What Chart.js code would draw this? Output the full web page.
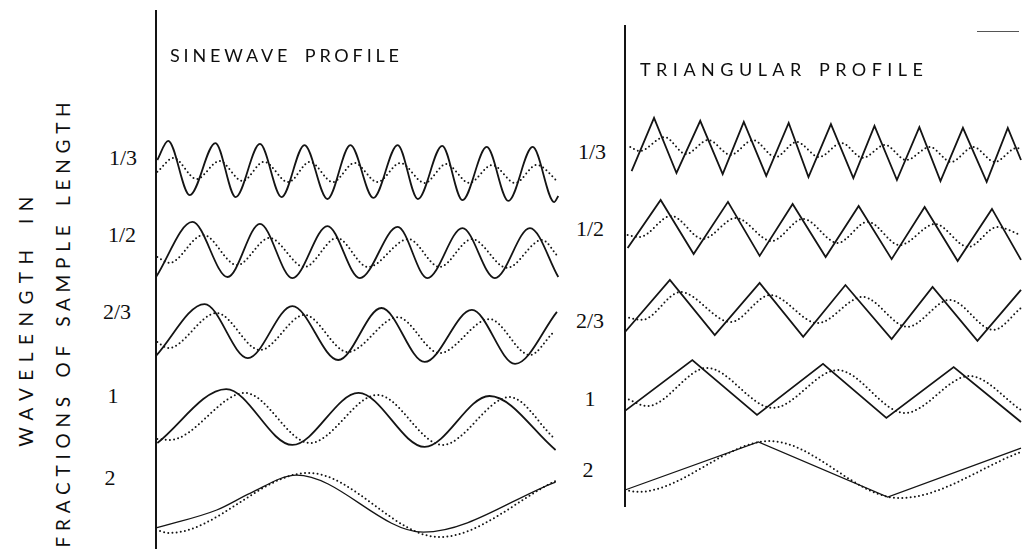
<!DOCTYPE html>
<html>
<head>
<meta charset="utf-8">
<script src="https://cdn.jsdelivr.net/npm/chart.js@4.4.1/dist/chart.umd.min.js"></script>
<style>
  html, body { margin: 0; padding: 0; background: #fff; }
  #page { position: relative; width: 1022px; height: 549px; overflow: hidden; font-family: "Lato", sans-serif; color: #0e0e0e; }
  canvas { position: absolute; }
  .title { position: absolute; font-size: 18px; line-height: 18px; white-space: nowrap; transform: translateY(-50%); }
  .ytitle { position: absolute; font-size: 19px; line-height: 19px; white-space: nowrap; transform: translate(-50%, -50%) rotate(-90deg); }
  .row-label { position: absolute; font-family: "Liberation Serif", serif; font-size: 22px; line-height: 22px; transform: translate(-50%, -50%); }
  .rule { position: absolute; height: 1px; background: #555; }
</style>
</head>
<body>
<div id="page">
  <canvas id="sine"></canvas>
  <canvas id="tri"></canvas>
</div>
<script>
// wavelength of each row, as a fraction of the sample length
const wavelengths = ['1/3', '1/2', '2/3', '1', '2'];

// points are [distance along sample (sample lengths), height]; solid = profile, dotted = recorded trace

// sinewave profile
const sineSolid13 = [[0.01,0.38],[0.09,1.07],[0.25,-0.89],[0.44,0.99],[0.59,-0.96],[0.77,0.96],[0.93,-0.96],[1.10,0.92],[1.27,-1.03],[1.44,0.92],[1.61,-0.99],[1.79,0.92],[1.94,-1.03],[2.12,0.89],[2.27,-1.07],[2.45,0.85],[2.61,-1.10],[2.79,0.85],[2.95,-1.14],[2.98,-0.92]];
const sineDotted13 = [[0.01,-0.05],[0.13,0.45],[0.30,-0.31],[0.47,0.34],[0.64,-0.38],[0.80,0.31],[0.98,-0.42],[1.14,0.31],[1.31,-0.42],[1.47,0.27],[1.64,-0.42],[1.81,0.27],[1.99,-0.45],[2.15,0.23],[2.32,-0.45],[2.49,0.20],[2.66,-0.45],[2.82,0.20],[2.98,-0.42]];
const sineSolid12 = [[0.00,-0.85],[0.27,1.14],[0.53,-0.85],[0.77,1.07],[1.01,-0.89],[1.27,0.99],[1.51,-0.89],[1.79,0.96],[2.01,-0.89],[2.27,0.92],[2.51,-0.89],[2.77,0.92],[2.98,-0.85]];
const sineDotted12 = [[0.01,-0.13],[0.10,-0.34],[0.35,0.67],[0.60,-0.42],[0.84,0.56],[1.10,-0.49],[1.34,0.56],[1.57,-0.49],[1.87,0.52],[2.10,-0.49],[2.34,0.52],[2.60,-0.52],[2.86,0.49],[2.98,-0.13]];
const sineSolid23 = [[0.00,-0.70],[0.36,1.17],[0.68,-0.78],[1.01,1.10],[1.35,-0.85],[1.67,1.03],[1.99,-0.92],[2.34,0.96],[2.66,-0.99],[2.97,0.89]];
const sineDotted23 = [[0.01,-0.20],[0.09,-0.42],[0.45,0.85],[0.77,-0.49],[1.10,0.78],[1.42,-0.56],[1.79,0.70],[2.10,-0.60],[2.47,0.63],[2.77,-0.67],[2.94,0.13]];
const sineSolid1 = [[0.01,-0.85],[0.52,1.10],[1.01,-0.92],[1.50,0.96],[1.99,-0.99],[2.47,0.85],[2.96,-1.10]];
const sineDotted1 = [[0.01,-0.70],[0.10,-0.74],[0.66,0.96],[1.14,-0.85],[1.64,0.89],[2.12,-0.92],[2.62,0.81],[2.94,-0.63]];
const sineSolid2 = [[0.00,-0.92],[0.45,-0.27],[0.70,0.34],[1.04,0.99],[1.98,-1.07],[2.96,0.74]];
const sineDotted2 = [[0.00,-0.99],[0.10,-1.10],[1.13,1.07],[2.10,-1.25],[2.96,0.78]];

// triangular profile
const triSolid13 = [[0.05,-0.93],[0.22,1.04],[0.39,-1.00],[0.57,0.93],[0.74,-1.04],[0.90,0.89],[1.07,-1.11],[1.24,0.85],[1.39,-1.15],[1.56,0.81],[1.73,-1.19],[1.89,0.74],[2.06,-1.26],[2.23,0.70],[2.39,-1.30],[2.56,0.67],[2.74,-1.33],[2.90,0.67],[3.00,-0.52]];
const triDotted13 = [[0.04,-0.04],[0.11,-0.19],[0.30,0.33],[0.46,-0.30],[0.63,0.22],[0.80,-0.33],[0.97,0.22],[1.14,-0.41],[1.30,0.15],[1.47,-0.41],[1.64,0.11],[1.80,-0.44],[1.97,0.04],[2.13,-0.52],[2.31,-0.04],[2.47,-0.59],[2.64,-0.04],[2.80,-0.59],[2.97,-0.07],[3.00,-0.15]];
const triSolid12 = [[0.02,-0.78],[0.27,1.00],[0.52,-1.00],[0.78,0.93],[1.02,-1.07],[1.27,0.85],[1.52,-1.11],[1.77,0.78],[2.02,-1.19],[2.27,0.74],[2.52,-1.26],[2.78,0.67],[3.00,-1.22]];
const triDotted12 = [[0.02,-0.30],[0.11,-0.37],[0.35,0.41],[0.59,-0.44],[0.84,0.33],[1.11,-0.52],[1.35,0.30],[1.61,-0.59],[1.84,0.19],[2.08,-0.67],[2.35,0.11],[2.60,-0.74],[2.82,0.00],[3.00,-0.30]];
const triSolid23 = [[0.00,-0.89],[0.34,1.04],[0.68,-1.00],[1.02,0.93],[1.35,-1.07],[1.67,0.85],[2.02,-1.15],[2.33,0.78],[2.67,-1.22],[3.00,0.67]];
const triDotted23 = [[0.00,-0.33],[0.13,-0.44],[0.42,0.59],[0.80,-0.52],[1.10,0.48],[1.46,-0.56],[1.80,0.41],[2.14,-0.70],[2.46,0.30],[2.79,-0.81],[3.00,0.00]];
const triSolid1 = [[0.00,-0.81],[0.51,1.07],[1.00,-0.96],[1.50,0.93],[1.98,-1.07],[2.49,0.81],[3.00,-1.22]];
const triDotted1 = [[0.00,-0.33],[0.17,-0.63],[0.62,0.78],[1.12,-0.70],[1.61,0.70],[2.12,-0.89],[2.61,0.48],[3.00,-0.78]];
const triSolid2 = [[0.00,-0.74],[1.01,1.04],[1.99,-1.00],[3.00,0.81]];
const triDotted2 = [[0.00,-0.74],[0.10,-0.81],[1.10,1.07],[2.08,-1.04],[3.00,0.67]];

const sineRows = [
  [sineSolid13, sineDotted13], [sineSolid12, sineDotted12], [sineSolid23, sineDotted23],
  [sineSolid1, sineDotted1], [sineSolid2, sineDotted2]
];
const triRows = [
  [triSolid13, triDotted13], [triSolid12, triDotted12], [triSolid23, triDotted23],
  [triSolid1, triDotted1], [triSolid2, triDotted2]
];

const INK = '#141414';
const ROW_GAP = 3; // rows stacked 3 height units apart

function toPoints(pairs, row) {
  return pairs.map(p => ({ x: p[0], y: p[1] - row * ROW_GAP }));
}

function buildDatasets(rows, smoothProfile) {
  let sets = [];
  rows.forEach((row, i) => {
    let last = i === rows.length - 1;
    sets.push({
      data: toPoints(row[0], i),
      borderColor: INK,
      borderWidth: last ? 1.3 : 1.8,
      borderJoinStyle: 'miter',
      cubicInterpolationMode: smoothProfile ? 'monotone' : 'default',
      tension: 0,
      clip: false
    });
    sets.push({
      data: toPoints(row[1], i),
      borderColor: INK,
      borderWidth: 2,
      borderDash: [0, 4.2],
      borderCapStyle: 'round',
      cubicInterpolationMode: 'monotone',
      clip: false
    });
  });
  return sets;
}

function makePanel(id, box, padding, yMin, yMax, rows, smoothProfile) {
  let canvas = document.getElementById(id);
  canvas.width = box.w;
  canvas.height = box.h;
  canvas.style.left = box.x + 'px';
  canvas.style.top = box.y + 'px';
  canvas.style.width = box.w + 'px';
  canvas.style.height = box.h + 'px';
  return new Chart(canvas.getContext('2d'), {
    type: 'line',
    data: { datasets: buildDatasets(rows, smoothProfile) },
    options: {
      responsive: false,
      animation: false,
      events: [],
      layout: { padding: padding },
      elements: { point: { radius: 0 } },
      plugins: { legend: { display: false }, tooltip: { enabled: false } },
      scales: {
        x: { type: 'linear', min: 0, max: 3, display: false },
        y: {
          type: 'linear', min: yMin, max: yMax,
          grid: { display: false, drawTicks: false },
          ticks: { display: false },
          border: { display: true, color: INK, width: 2 }
        }
      }
    }
  });
}

makePanel('sine', { x: 154, y: 10, w: 417, h: 539 }, { left: 2, right: 10, top: 0, bottom: 0 }, -13.68, 5.80, sineRows, true);
makePanel('tri', { x: 623, y: 25, w: 399, h: 482 }, { left: 2, right: 1, top: 0, bottom: 0 }, -13.37, 4.48, triRows, false);

// text
const page = document.getElementById('page');

function addText(cls, text, x, y, width, wordGap) {
  let el = document.createElement('DIV');
  el.className = cls;
  el.textContent = text;
  el.style.left = x + 'px';
  el.style.top = y + 'px';
  if (wordGap) el.style.wordSpacing = wordGap + 'px';
  page.append(el);
  if (width) {
    // spread the letters so the line runs the given length
    let natural = el.getBoundingClientRect();
    let len = Math.max(natural.width, natural.height);
    el.style.letterSpacing = ((width - len) / (text.length - 1)) + 'px';
  }
  return el;
}

addText('title', 'SINEWAVE PROFILE', 170, 55, 229, 5);
addText('title', 'TRIANGULAR PROFILE', 640, 69, 283, 2);
addText('ytitle', 'WAVELENGTH IN', 25, 318, 250, 6);
addText('ytitle', 'FRACTIONS OF SAMPLE LENGTH', 62, 322, 445, 3);

const sineLabelPos = [[123, 158], [122, 235], [117, 312], [113, 396], [110, 478]];
const triLabelPos = [[592, 152], [590, 229], [590, 321], [590, 399], [588, 470]];
wavelengths.forEach((w, i) => {
  addText('row-label', w, sineLabelPos[i][0], sineLabelPos[i][1]);
  addText('row-label', w, triLabelPos[i][0], triLabelPos[i][1]);
});

let rule = document.createElement('DIV');
rule.className = 'rule';
rule.style.left = '977px';
rule.style.top = '31px';
rule.style.width = '42px';
page.append(rule);
</script>
</body>
</html>
